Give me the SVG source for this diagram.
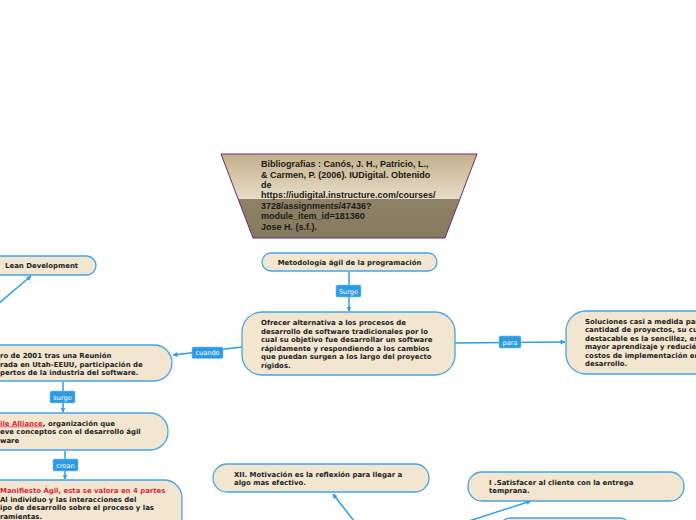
<svg xmlns="http://www.w3.org/2000/svg" width="696" height="520" viewBox="0 0 696 520">
<style>
.node{fill:#f2e6d1;stroke:#45a3e6;stroke-width:1.3}
.t{font-family:"DejaVu Sans",Verdana,sans-serif;font-weight:bold;font-size:6.95px;fill:#222}
.red{fill:#d8283c}
.conn{stroke:#2f9be3;stroke-width:1.5;fill:none}
.lbl{fill:#2d9be3;stroke:#7cc0ee;stroke-width:0.6}
.lt{font-family:"DejaVu Sans",Verdana,sans-serif;font-size:6.6px;fill:#fff;text-anchor:middle}
.bib{font-family:"Liberation Sans",Arial,sans-serif;font-weight:bold;font-size:9px;fill:#1a1a1a}
</style>
<defs>
<linearGradient id="g" x1="0" y1="0" x2="0" y2="1">
<stop offset="0" stop-color="#c4b08a"/>
<stop offset="0.53" stop-color="#e6dcc7"/>
<stop offset="0.535" stop-color="#8e8165"/>
<stop offset="1" stop-color="#867b5f"/>
</linearGradient>
<marker id="a" viewBox="0 0 10 10" refX="9" refY="5" markerWidth="5" markerHeight="5" orient="auto" markerUnits="userSpaceOnUse">
<path d="M0,0 L10,5 L0,10 z" fill="#2f9be3"/>
</marker>
</defs>

<g id="connectors">
<line class="conn" x1="349" y1="272" x2="349" y2="311" marker-end="url(#a)"/>
<line class="conn" x1="455" y1="343" x2="565" y2="342" marker-end="url(#a)"/>
<line class="conn" x1="242" y1="347" x2="173" y2="355" marker-end="url(#a)"/>
<line class="conn" x1="63" y1="382" x2="63" y2="412" marker-end="url(#a)"/>
<line class="conn" x1="65" y1="451" x2="65" y2="479" marker-end="url(#a)"/>
<line class="conn" x1="-2" y1="304" x2="31" y2="276" marker-end="url(#a)"/>
<line class="conn" x1="354" y1="521" x2="333" y2="494" marker-end="url(#a)"/>
<line class="conn" x1="469" y1="521" x2="531" y2="501" marker-end="url(#a)"/>
<g id="lbl-surge1"><rect class="lbl" x="336" y="285" width="25" height="12" rx="1.5"/><text class="lt" x="348.5" y="293.5">Surge</text></g>
<g id="lbl-para"><rect class="lbl" x="499" y="336" width="22" height="12" rx="1.5"/><text class="lt" x="510" y="344.5">para</text></g>
<g id="lbl-cuando"><rect class="lbl" x="192" y="347" width="31" height="11.5" rx="1.5"/><text class="lt" x="207.5" y="355.3">cuando</text></g>
<g id="lbl-surge2"><rect class="lbl" x="50" y="391" width="25" height="12" rx="1.5"/><text class="lt" x="62.5" y="399.5">surge</text></g>
<g id="lbl-crean"><rect class="lbl" x="53" y="459" width="25" height="12" rx="1.5"/><text class="lt" x="65.5" y="467.5">crean</text></g>
</g>

<g id="bibliografia">
<path d="M221,154 L477,154 L445,238 L253,238 Z" fill="url(#g)" stroke="#6b2a78" stroke-width="1"/>
<text class="bib" x="261" y="167">Bibliografias : Canós, J. H., Patricio, L.,</text>
<text class="bib" x="261" y="177.5">&amp; Carmen, P. (2006). IUDigital. Obtenido</text>
<text class="bib" x="261" y="188">de</text>
<text class="bib" x="261" y="198">https://iudigital.instructure.com/courses/</text>
<text class="bib" x="261" y="208.5">3728/assignments/47436?</text>
<text class="bib" x="261" y="219">module_item_id=181360</text>
<text class="bib" x="261" y="229.5">Jose H. (s.f.).</text>
</g>

<g id="metodologia">
<rect class="node" x="262" y="253" width="175" height="18" rx="9"/>
<text class="t" x="349.5" y="264.5" text-anchor="middle">Metodología ágil de la programación</text>
</g>

<g id="ofrecer">
<rect class="node" x="242" y="312" width="213" height="63" rx="20"/>
<text class="t" x="261" y="325">Ofrecer alternativa a los procesos de</text>
<text class="t" x="261" y="333.6">desarrollo de software tradicionales por lo</text>
<text class="t" x="261" y="342.2">cual su objetivo fue desarrollar un software</text>
<text class="t" x="261" y="350.8">rápidamente y respondiendo a los cambios</text>
<text class="t" x="261" y="359.4">que puedan surgen a los largo del proyecto</text>
<text class="t" x="261" y="368">rígidos.</text>
</g>

<g id="soluciones">
<rect class="node" x="566" y="311" width="150" height="63" rx="20"/>
<text class="t" x="585" y="323.5">Soluciones casi a medida par</text>
<text class="t" x="585" y="332">cantidad de proyectos, su cu</text>
<text class="t" x="585" y="340.5">destacable es la sencillez, es</text>
<text class="t" x="585" y="349">mayor aprendizaje y reducié</text>
<text class="t" x="585" y="357.5">costos de implementación en</text>
<text class="t" x="585" y="366">desarrollo.</text>
</g>

<g id="lean">
<rect class="node" x="-20" y="256" width="116" height="19" rx="9.5"/>
<text class="t" x="5" y="268.3">Lean  Development</text>
</g>

<g id="reunion">
<rect class="node" x="-40" y="345" width="212" height="36" rx="18"/>
<text class="t" x="0" y="358">ro de 2001 tras una Reunión</text>
<text class="t" x="0" y="366.5">rada en Utah-EEUU, participación de</text>
<text class="t" x="0" y="375">pertos de la industria del software.</text>
</g>

<g id="alliance">
<rect class="node" x="-40" y="413" width="208" height="37" rx="18"/>
<text class="t" x="0" y="425.5"><tspan class="red" text-decoration="underline">ile Alliance</tspan>, organización que</text>
<text class="t" x="0" y="434">eve conceptos con el desarrollo ágil</text>
<text class="t" x="0" y="442.5">ware</text>
</g>

<g id="manifiesto">
<rect class="node" x="-40" y="480" width="222" height="60" rx="18"/>
<text class="t red" x="0" y="493">Manifiesto Ágil, esta se valora en 4 partes</text>
<text class="t" x="0" y="501.5"> Al individuo y las interacciones del</text>
<text class="t" x="0" y="510">ipo de desarrollo sobre el proceso y las</text>
<text class="t" x="0" y="518.5">ramientas.</text>
</g>

<g id="motivacion">
<rect class="node" x="213" y="464" width="216" height="28" rx="14"/>
<text class="t" x="234" y="476.5">XII. Motivación es la reflexión para llegar a</text>
<text class="t" x="234" y="485">algo mas efectivo.</text>
</g>

<g id="satisfacer">
<rect class="node" x="468" y="472" width="216" height="29" rx="14"/>
<text class="t" x="489" y="484.5">I .Satisfacer al cliente con la entrega</text>
<text class="t" x="489" y="493">temprana.</text>
</g>

<g id="siguiente">
<rect class="node" x="500" y="518" width="130" height="20" rx="10"/>
</g>
</svg>
